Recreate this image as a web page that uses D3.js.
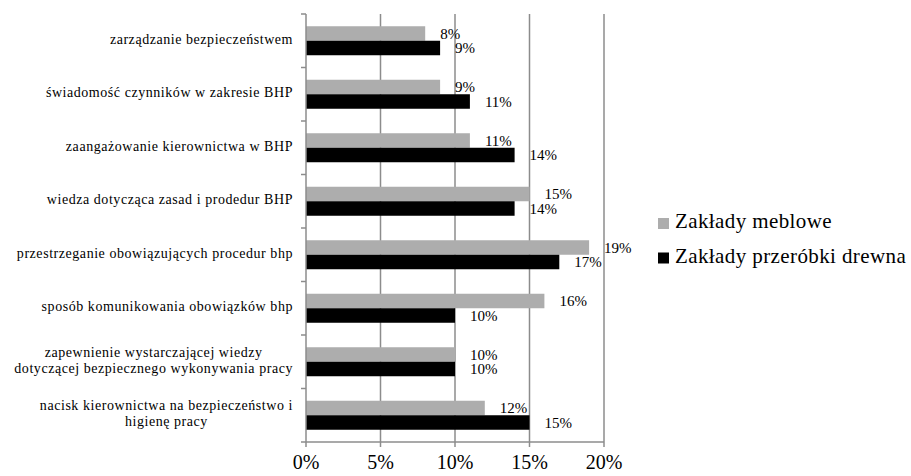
<!DOCTYPE html>
<html>
<head>
<meta charset="utf-8">
<script src="https://cdn.jsdelivr.net/npm/d3@7"></script>
<style>
	body { margin: 0; background: #fff; }
	svg text { font-family: 'Liberation Serif', 'Times New Roman', serif; fill: #000; }
</style>
</head>
<body>
<div id="chart"></div>
<script>
var categories = [
	['zarządzanie bezpieczeństwem'],
	['świadomość czynników w zakresie BHP'],
	['zaangażowanie kierownictwa w BHP'],
	['wiedza dotycząca zasad i prodedur BHP'],
	['przestrzeganie obowiązujących procedur bhp'],
	['sposób komunikowania obowiązków bhp'],
	['zapewnienie wystarczającej wiedzy', 'dotyczącej bezpiecznego wykonywania pracy'],
	['nacisk kierownictwa na bezpieczeństwo i', 'higienę pracy']
];
var seriesNames = ['Zakłady meblowe', 'Zakłady przeróbki drewna'];
var meblowe = [8, 9, 11, 15, 19, 16, 10, 12];
var przerobki = [9, 11, 14, 14, 17, 10, 10, 15];
var xTicks = [0, 5, 10, 15, 20];

var colors = ['#adadad', '#000000'];
var width = 911, height = 476;
var margin = {top: 14, left: 306, right: 307, bottom: 34};

var svg = d3.select('#chart').append('svg')
	.attr('width', width)
	.attr('height', height);

var x = d3.scaleLinear()
	.domain([0, 20])
	.range([margin.left, width - margin.right]);

var y = d3.scaleBand()
	.domain(d3.range(categories.length))
	.range([margin.top, height - margin.bottom]);

var barH = 14.5;
var series = [meblowe, przerobki];

// gridlines
svg.append('g')
	.selectAll('line')
	.data(xTicks.slice(1))
	.enter()
	.append('line')
	.attr('x1', function(d) { return x(d) })
	.attr('x2', function(d) { return x(d) })
	.attr('y1', y.range()[0])
	.attr('y2', y.range()[1])
	.style('stroke', '#8c8c8c')
	.style('stroke-width', 1.5);

// bars
series.forEach(function(vals, si) {
	svg.append('g')
		.selectAll('rect')
		.data(vals)
		.enter()
		.append('rect')
		.attr('x', x(0))
		.attr('y', function(d, i) { return y(i) + y.bandwidth() / 2 - barH + si * barH })
		.attr('width', function(d) { return x(d) - x(0) })
		.attr('height', barH)
		.attr('fill', colors[si]);

	svg.append('g')
		.selectAll('text')
		.data(vals)
		.enter()
		.append('text')
		.attr('x', function(d) { return x(d) + 15 })
		.attr('y', function(d, i) { return y(i) + y.bandwidth() / 2 - barH / 2 + si * barH + 2 })
		.attr('dominant-baseline', 'middle')
		.style('font-size', '15px')
		.text(function(d) { return d + '%' });
});

// y axis
var yAxis = svg.append('g')
	.attr('transform', 'translate(' + x(0) + ',0)');
yAxis.append('line')
	.attr('y1', y.range()[0]).attr('y2', y.range()[1])
	.style('stroke', '#8c8c8c').style('stroke-width', 1.5);
yAxis.selectAll('.tick')
	.data(d3.range(categories.length + 1))
	.enter()
	.append('line')
	.attr('x1', -5).attr('x2', 0)
	.attr('y1', function(d) { return margin.top + d * y.step() })
	.attr('y2', function(d) { return margin.top + d * y.step() })
	.style('stroke', '#8c8c8c').style('stroke-width', 1.5);

// x axis
var xAxis = svg.append('g')
	.attr('transform', 'translate(0,' + y.range()[1] + ')');
xAxis.append('line')
	.attr('x1', x(0)).attr('x2', x(20))
	.style('stroke', '#8c8c8c').style('stroke-width', 1.5);
xAxis.selectAll('.tick')
	.data(xTicks)
	.enter()
	.append('line')
	.attr('x1', function(d) { return x(d) })
	.attr('x2', function(d) { return x(d) })
	.attr('y1', 0).attr('y2', 5)
	.style('stroke', '#8c8c8c').style('stroke-width', 1.5);
xAxis.selectAll('text')
	.data(xTicks)
	.enter()
	.append('text')
	.attr('x', function(d) { return x(d) })
	.attr('y', 22)
	.attr('text-anchor', 'middle')
	.attr('dominant-baseline', 'middle')
	.style('font-size', '20px')
	.text(function(d) { return d + '%' });

// category labels, each block right-aligned, lines centred within it
var lineH = 16;
categories.forEach(function(lines, i) {
	var g = svg.append('g');
	var texts = g.selectAll('text')
		.data(lines)
		.enter()
		.append('text')
		.attr('y', function(d, j) { return y(i) + y.bandwidth() / 2 + (j - (lines.length - 1) / 2) * lineH })
		.attr('dominant-baseline', 'middle')
		.attr('text-anchor', 'middle')
		.style('font-size', '14px')
		.style('letter-spacing', '0.55px')
		.text(function(d) { return d });
	var maxW = d3.max(texts.nodes(), function(n) { return n.getComputedTextLength() });
	texts.attr('x', x(0) - 13 - maxW / 2);
});

// legend
var legend = svg.append('g')
	.selectAll('g')
	.data(seriesNames)
	.enter()
	.append('g')
	.attr('transform', function(d, i) { return 'translate(658,' + (223.5 + i * 34.5) + ')' });
legend.append('rect')
	.attr('x', 0).attr('y', -5.5)
	.attr('width', 11).attr('height', 11)
	.attr('fill', function(d, i) { return colors[i] });
legend.append('text')
	.attr('x', 17)
	.attr('y', 0)
	.attr('dominant-baseline', 'middle')
	.style('font-size', '21px')
	.style('letter-spacing', '0.4px')
	.text(function(d) { return d });
</script>
</body>
</html>
